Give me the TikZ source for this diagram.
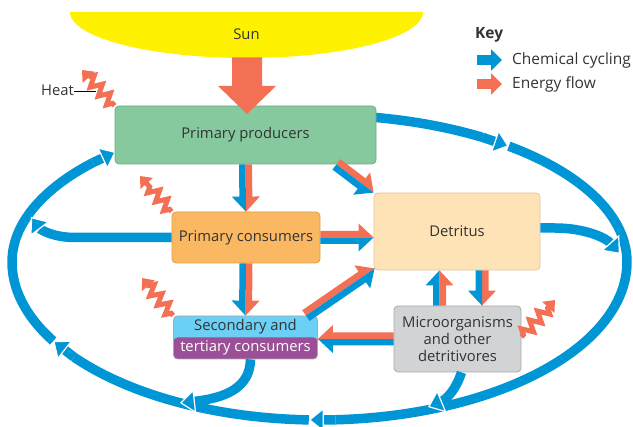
\documentclass[tikz,border=0pt]{standalone}
\usepackage{fontspec}
\setmainfont{Open Sans}
\usetikzlibrary{arrows.meta,calc,decorations.pathmorphing}
\definecolor{cb}{HTML}{0096D6}
\definecolor{eo}{HTML}{F37055}
\definecolor{sunY}{HTML}{FFF200}
\definecolor{ppG}{HTML}{86C99E}
\definecolor{ppB}{HTML}{6AAF83}
\definecolor{pcO}{HTML}{FBB862}
\definecolor{pcB}{HTML}{DDA050}
\definecolor{detF}{HTML}{FEE3B6}
\definecolor{detB}{HTML}{E2C596}
\definecolor{secB}{HTML}{6CCFF6}
\definecolor{secP}{HTML}{9B4F96}
\definecolor{micF}{HTML}{D1D3D4}
\definecolor{micB}{HTML}{A7A9AC}
\definecolor{txt}{HTML}{333333}
\def\shw{6.5pt}\def\hdw{14pt}\def\hdl{15pt}
\newcommand\splitarrow[4]{%
  \coordinate (saA) at (#1);
  \coordinate (saB) at (#2);
  \coordinate (saH) at ($(saB)!\hdl!(saA)$);
  \fill[#3] (saA) -- ($(saA)!\shw!90:(saB)$) -- ($(saH)!\shw!-90:(saA)$) -- ($(saH)!\hdw!-90:(saA)$) -- (saB) -- cycle;
  \fill[#4] (saA) -- ($(saA)!\shw!-90:(saB)$) -- ($(saH)!\shw!90:(saA)$) -- ($(saH)!\hdw!90:(saA)$) -- (saB) -- cycle;
}
\begin{document}
\begin{tikzpicture}[x=1pt,y=-1pt, font=\fontsize{14.8}{17}\selectfont, text=txt,
 box/.style={rounded corners=4pt, line width=0.8pt, inner sep=0pt, align=center},
 loopline/.style={cb, line width=9.5pt},
 bighead/.style={-{Triangle[width=24pt,length=15pt,fill=cb,color=white,line width=1.2pt]}},
 heat/.style={eo, line width=5pt, decorate, decoration={zigzag, amplitude=5.5pt, segment length=12pt, pre length=3pt, post length=9pt}, -{Triangle[width=16pt,length=10pt]}},
 keytext/.style={anchor=west, inner sep=0pt, font=\fontsize{15.5}{18}\selectfont}]
\useasboundingbox (0,0) rectangle (633,427);
% Sun
\fill[sunY] plot[domain=180:360, samples=80] ({246.5+176.5*cos(\x)},{12-46*sin(\x)}) -- cycle;
\node (sun) at (246.5,34) {Sun};
% big loop
\draw[loopline] plot[domain=79.5:58, samples=40] ({319.5+307.5*cos(\x)},{262-ifthenelse(sin(\x)>0,147,158)*sin(\x)});
\draw[loopline,bighead] (482.4,137.3) -- (508.8,146.2);
\draw[loopline] plot[domain=52:-87, samples=120] ({319.5+307.5*cos(\x)},{262-ifthenelse(sin(\x)>0,147,158)*sin(\x)});
\draw[loopline,bighead] (335.6,419.8) -- (308.8,419.9);
\draw[loopline] plot[domain=-92:-143, samples=50] ({319.5+307.5*cos(\x)},{262-ifthenelse(sin(\x)>0,147,158)*sin(\x)});
\draw[loopline,bighead] (73.9,357.1) -- (53.2,341);
\draw[loopline] plot[domain=-150:-222.5, samples=70] ({319.5+307.5*cos(\x)},{262-ifthenelse(sin(\x)>0,147,158)*sin(\x)});
\draw[loopline,bighead] (92.8,162.7) -- (115.8,151.9);
% nodes
\node[box, fill=ppG, draw=ppB, minimum width=261pt, minimum height=58pt] (pp) at (245.5,135) {Primary producers};
\node[box, fill=pcO, draw=pcB, minimum width=148pt, minimum height=51pt] (pc) at (246,237.5) {Primary consumers};
\node[box, fill=detF, draw=detB, minimum width=166pt, minimum height=77pt] (det) at (457,231.5) {Detritus};
\node[box, fill=secB, draw=micB, minimum width=144pt, minimum height=43pt,
  path picture={\fill[secP] (path picture bounding box.west) rectangle (path picture bounding box.south east);}]
  (sec) at (245.5,337.5) {Secondary and\\[4pt]\textcolor{white}{tertiary consumers}};
\node[box, fill=micF, draw=micB, minimum width=127pt, minimum height=66pt] (mic) at (457.5,339) {Microorganisms\\and other\\detritivores};
% sun arrow
\fill[eo] (232,57.5) -- (232,86) -- (218,86) -- (247,114) -- (276,86) -- (262,86) -- (262,57.5) -- cycle;
% split arrows
\splitarrow{pp.south}{pc.north}{eo}{cb}
\splitarrow{$(pp.south east)+(-40,0)$}{det.north west}{eo}{cb}
\splitarrow{pc.east}{det.west |- pc.east}{eo}{cb}
\splitarrow{pc.south}{sec.north}{eo}{cb}
\splitarrow{$(sec.north east)+(-12,0)$}{$(det.south west)+(1,-2)$}{eo}{cb}
\splitarrow{mic.west}{sec.east |- mic.west}{cb}{eo}
\splitarrow{$(mic.north)+(-18,0)$}{$(det.south)+(-17.5,0)$}{cb}{eo}
\splitarrow{$(det.south)+(25,0)$}{$(mic.north)+(24.5,0)$}{eo}{cb}
% blue connectors to the loop
\coordinate (l1) at (31,217);
\coordinate (l2) at (180,403);
\coordinate (l3) at (428,407);
\coordinate (l4) at (620,254);
\draw[loopline,bighead] (pc.west) -- (75,237.5) .. controls (52,237.5) and (40,229) .. (l1);
\draw[loopline,bighead] ($(sec.south)+(5,0)$) .. controls (250,388) and (225,398) .. (l2);
\draw[loopline,bighead] ($(mic.south)+(4,0)$) .. controls (455,392) and (445,400) .. (l3);
\draw[loopline,bighead] ($(det.east)+(0,-3.5)$) -- (555,228) .. controls (585,228) and (606,238) .. (l4);
% heat
\coordinate (h1) at (82,70);
\coordinate (h2) at (140,176);
\coordinate (h3) at (142,278);
\coordinate (h4) at (555,300);
\draw[heat] (pp.north west) -- (h1);
\draw[heat] (pc.north west) -- (h2);
\draw[heat] (sec.north west) -- (h3);
\draw[heat] ($(mic.east)+(0,-2)$) -- (h4);
\node[anchor=east, inner sep=0pt] (heatlbl) at (74,90) {Heat};
\coordinate (hl) at (96,91.5);
\draw[black, line width=0.6pt] (heatlbl.east |- hl) -- (hl);
% key
\node[anchor=west, inner sep=0pt, font=\bfseries\fontsize{15.5}{18}\selectfont] (key) at (475,35) {Key};
\coordinate (k1a) at (477,60); \coordinate (k1b) at (502,60);
\coordinate (k2a) at (477,84); \coordinate (k2b) at (502,84);
\draw[cb, line width=10pt, -{Triangle[width=21pt,length=11pt]}] (k1a) -- (k1b);
\draw[eo, line width=10pt, -{Triangle[width=21pt,length=11pt]}] (k2a) -- (k2b);
\node[keytext] (kc) at (512,60) {Chemical cycling};
\node[keytext] (ke) at (512,84) {Energy flow};
\end{tikzpicture}
\end{document}
